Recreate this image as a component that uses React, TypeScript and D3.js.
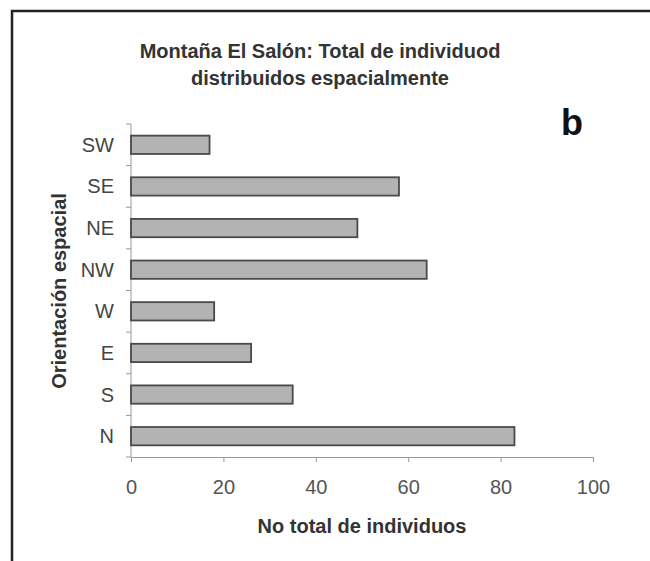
import * as d3 from "d3";
import { useEffect, useRef } from "react";

const WIDTH = 650;
const HEIGHT = 561;
const MARGIN = { top: 124, right: 57, bottom: 104, left: 131 };

// top to bottom as drawn
const categories = ["SW", "SE", "NE", "NW", "W", "E", "S", "N"];
const values = [17, 58, 49, 64, 18, 26, 35, 83];
const xTicks = [0, 20, 40, 60, 80, 100];
const titleLines = [
  "Montaña El Salón: Total de individuod",
  "distribuidos espacialmente",
];

const FONT = "'Liberation Sans', Arial, sans-serif";

export default function App() {
  const svgRef = useRef<SVGSVGElement | null>(null);

  useEffect(() => {
    const svg = d3.select(svgRef.current);
    svg.selectAll("*").remove();

    const xScale = d3
      .scaleLinear()
      .domain([0, 100])
      .range([MARGIN.left, WIDTH - MARGIN.right]);
    const yScale = d3
      .scaleBand()
      .domain(categories)
      .range([MARGIN.top, HEIGHT - MARGIN.bottom])
      .paddingInner(0.56)
      .paddingOuter(0.28);

    // frame
    svg
      .append("path")
      .attr("d", `M12,${HEIGHT} L12,11 L${WIDTH},11`)
      .attr("fill", "none")
      .attr("stroke", "#222")
      .attr("stroke-width", 2.5);

    // x axis
    const xAxis = svg
      .append("g")
      .attr("transform", `translate(0, ${HEIGHT - MARGIN.bottom})`)
      .call(
        d3
          .axisBottom(xScale)
          .tickValues(xTicks)
          .tickSize(5)
          .tickSizeOuter(0)
          .tickPadding(18),
      );
    xAxis.select(".domain").attr("stroke", "#999");
    xAxis.selectAll(".tick line").attr("stroke", "#999");
    xAxis
      .selectAll("text")
      .attr("fill", "#555")
      .attr("font-size", 20)
      .attr("font-family", FONT);

    // y axis: ticks between categories
    const step = yScale.step();
    const yTop = MARGIN.top;
    const yBottom = HEIGHT - MARGIN.bottom;
    svg
      .append("line")
      .attr("x1", MARGIN.left)
      .attr("x2", MARGIN.left)
      .attr("y1", yTop)
      .attr("y2", yBottom)
      .attr("stroke", "#999");
    d3.range(categories.length + 1).forEach((i) => {
      svg
        .append("line")
        .attr("x1", MARGIN.left - 5)
        .attr("x2", MARGIN.left)
        .attr("y1", yTop + i * step)
        .attr("y2", yTop + i * step)
        .attr("stroke", "#999");
    });
    svg
      .append("g")
      .selectAll("text")
      .data(categories)
      .join("text")
      .attr("x", MARGIN.left - 17)
      .attr("y", (d) => (yScale(d) ?? 0) + yScale.bandwidth() / 2)
      .attr("dy", "0.35em")
      .attr("text-anchor", "end")
      .attr("fill", "#444")
      .attr("font-size", 20)
      .attr("font-family", FONT)
      .text((d) => d);

    // bars
    svg
      .append("g")
      .selectAll("rect")
      .data(categories)
      .join("rect")
      .attr("x", xScale(0))
      .attr("y", (d) => yScale(d) ?? 0)
      .attr("width", (d, i) => xScale(values[i]) - xScale(0))
      .attr("height", yScale.bandwidth())
      .attr("fill", "#b3b3b3")
      .attr("stroke", "#4a4a4a")
      .attr("stroke-width", 1.8);

    // title
    svg
      .append("g")
      .selectAll("text")
      .data(titleLines)
      .join("text")
      .attr("x", 320)
      .attr("y", (d, i) => 58 + i * 27)
      .attr("text-anchor", "middle")
      .attr("fill", "#333")
      .attr("font-size", 20)
      .attr("font-weight", "bold")
      .attr("font-family", FONT)
      .text((d) => d);

    // panel letter
    svg
      .append("text")
      .attr("x", 572)
      .attr("y", 135)
      .attr("text-anchor", "middle")
      .attr("fill", "#111")
      .attr("font-size", 36)
      .attr("font-weight", "bold")
      .attr("font-family", FONT)
      .text("b");

    // axis titles
    svg
      .append("text")
      .attr("x", (xScale(0) + xScale(100)) / 2)
      .attr("y", 533)
      .attr("text-anchor", "middle")
      .attr("fill", "#333")
      .attr("font-size", 20)
      .attr("font-weight", "bold")
      .attr("font-family", FONT)
      .text("No total de individuos");

    svg
      .append("text")
      .attr("transform", `translate(66, 291) rotate(-90)`)
      .attr("text-anchor", "middle")
      .attr("fill", "#333")
      .attr("font-size", 20)
      .attr("font-weight", "bold")
      .attr("font-family", FONT)
      .text("Orientación espacial");
  }, []);

  return (
    <svg
      ref={svgRef}
      width={WIDTH}
      height={HEIGHT}
      style={{ position: "absolute", left: 0, top: 0, background: "#fff" }}
    />
  );
}
